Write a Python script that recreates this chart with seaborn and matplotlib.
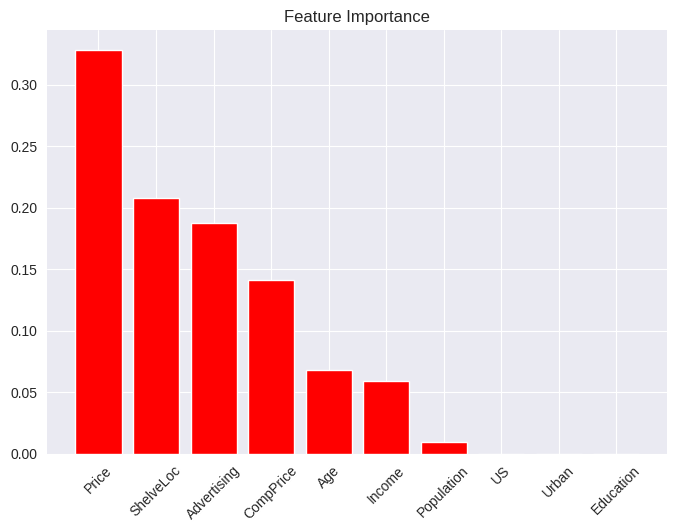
import matplotlib
matplotlib.use("Agg")
import matplotlib.pyplot as plt
import seaborn as sns
import pandas as pd

features = ["Price", "ShelveLoc", "Advertising", "CompPrice", "Age", "Income",
            "Population", "US", "Urban", "Education"]
importance = [0.328, 0.208, 0.188, 0.141, 0.068, 0.059, 0.010, 0.0, 0.0, 0.0]

sns.set_style("darkgrid", {"axes.facecolor": "#EAEAF2"})
plt.rcParams['font.family'] = ['Liberation Sans', 'DejaVu Sans']

df = pd.DataFrame({"feature": features, "importance": importance})
fig, ax = plt.subplots(figsize=(6.76, 5.32), dpi=100)
ax.bar(df["feature"], df["importance"], color="red", width=0.8)
ax.set_title("Feature Importance", fontsize=12)
ax.tick_params(axis='x', rotation=45, labelsize=10)
ax.tick_params(axis='y', labelsize=10)
ax.set_yticks([0, 0.05, 0.10, 0.15, 0.20, 0.25, 0.30])
ax.set_yticklabels(["0.00", "0.05", "0.10", "0.15", "0.20", "0.25", "0.30"])
for s in ax.spines.values():
    s.set_visible(False)
fig.subplots_adjust(left=0.07, right=0.987, top=0.943, bottom=0.147)
fig.savefig("out.png", dpi=100)
